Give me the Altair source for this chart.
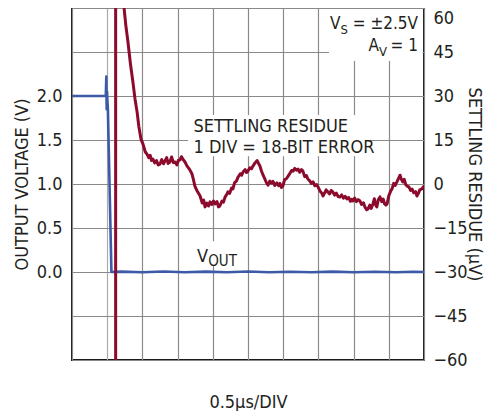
import altair as alt
import pandas as pd

FONT = "'Liberation Sans Narrow', 'DejaVu Sans Condensed', sans-serif"
TXT = "#231f20"
RED = "#8c0a2c"
BLUE = "#3d5aa8"
GRID = "#8a8a8a"

# Output voltage (V) vs time (divisions)
blue_t = [0.0, 0.50, 0.96, 0.975, 0.985, 0.995, 1.005, 1.02, 1.12, 1.40, 2.0, 2.6, 3.2, 3.8,
          4.4, 5.0, 5.6, 6.2, 6.8, 7.4, 8.0, 8.6, 9.2, 9.7, 10.0]
blue_v = [2.0, 2.0, 2.0, 2.22, 1.85, 2.05, 1.95, 1.85, 0.0, 0.004, -0.003, 0.005, -0.002,
          0.004, -0.003, 0.005, -0.002, 0.003, -0.003, 0.004, -0.002, 0.003, -0.003, 0.003, 0.0]

# Settling residue (uV) vs time (divisions)
red_t = [1.24, 1.24, 1.40, 1.477, 1.53, 1.59, 1.66, 1.73, 1.79, 1.85, 1.90, 1.96, 2.02, 2.08,
         2.13, 2.18, 2.22, 2.26, 2.30, 2.35, 2.40, 2.45, 2.50, 2.55, 2.60, 2.64, 2.69, 2.73,
         2.78, 2.83, 2.88, 2.93, 2.98, 3.02, 3.07, 3.11, 3.15, 3.21, 3.27, 3.34, 3.41, 3.45,
         3.49, 3.56, 3.64, 3.70, 3.74, 3.78, 3.83, 3.88, 3.92, 3.97, 4.02, 4.06, 4.12, 4.16,
         4.20, 4.26, 4.30, 4.35, 4.40, 4.43, 4.48, 4.53, 4.57, 4.62, 4.67, 4.72, 4.78, 4.82,
         4.86, 4.92, 4.96, 5.00, 5.05, 5.10, 5.14, 5.20, 5.26, 5.30, 5.34, 5.38, 5.43, 5.48,
         5.52, 5.57, 5.62, 5.67, 5.71, 5.76, 5.82, 5.87, 5.91, 5.95, 5.99, 6.04, 6.09, 6.14,
         6.20, 6.24, 6.28, 6.33, 6.38, 6.42, 6.47, 6.52, 6.56, 6.61, 6.66, 6.70, 6.76, 6.80,
         6.85, 6.90, 6.95, 6.99, 7.05, 7.10, 7.13, 7.18, 7.22, 7.27, 7.32, 7.36, 7.41, 7.46,
         7.51, 7.56, 7.61, 7.66, 7.71, 7.76, 7.81, 7.86, 7.91, 7.95, 7.98, 8.03, 8.08, 8.13,
         8.18, 8.23, 8.28, 8.32, 8.37, 8.41, 8.46, 8.50, 8.55, 8.59, 8.62, 8.66, 8.70, 8.75,
         8.80, 8.84, 8.88, 8.92, 8.95, 9.00, 9.05, 9.09, 9.14, 9.18, 9.23, 9.28, 9.32, 9.36,
         9.40, 9.44, 9.48, 9.52, 9.57, 9.62, 9.66, 9.71, 9.76, 9.80, 9.84, 9.88, 9.94, 10.0]
red_uv = [-200, 200, 200, 60.3, 54.0, 48.4, 41.0, 34.8, 29.0, 24.5, 19.5, 15.3, 13.5, 11.0,
          10.2, 9.0, 9.8, 8.0, 8.5, 7.2, 8.0, 6.5, 6.8, 8.3, 6.9, 7.8, 9.0, 7.0,
          7.5, 9.2, 7.3, 7.5, 6.5, 8.0, 8.2, 9.3, 8.5, 7.5, 6.1, 5.0, 3.4, 1.5,
          -0.7, -2.5, -4.1, -6.5, -5.5, -7.8, -6.5, -7.5, -6.1, -7.0, -5.8, -6.8, -6.0, -7.8,
          -7.5, -5.8, -6.2, -4.4, -3.5, -2.7, -3.2, -1.4, -1.7, 0.5, 1.0, 2.4, 3.5, 3.0,
          4.1, 4.9, 3.9, 4.4, 5.5, 5.2, 6.1, 7.2, 8.0, 7.0, 6.1, 4.5, 3.0, 1.7,
          0.5, -0.4, 1.0, 0.3, 0.9, -0.5, 0.4, -0.6, 0.2, -1.2, -0.7, 1.5, 1.8, 2.7,
          3.8, 4.6, 4.4, 5.3, 4.7, 5.1, 4.0, 4.9, 4.4, 2.5, 2.9, 1.7, 1.0, 0.2,
          0.7, -0.6, -0.2, -1.0, -2.5, -3.2, -4.1, -3.0, -2.0, -2.7, -3.4, -2.2, -2.7, -3.8,
          -3.1, -4.3, -4.4, -3.7, -4.8, -4.2, -5.1, -4.6, -5.9, -5.2, -5.8, -4.8, -6.0, -5.3,
          -5.8, -7.0, -6.4, -7.8, -8.8, -8.5, -7.2, -8.3, -6.8, -5.0, -7.0, -7.8, -5.4, -4.4,
          -6.0, -5.1, -6.8, -7.2, -6.8, -4.0, -2.5, -1.7, 0.2, -0.5, 0.7, 2.0, 3.0, 1.5,
          0.7, 1.6, -0.2, -0.7, -1.0, -2.2, -1.7, -3.0, -2.6, -4.1, -3.2, -2.0, -1.7, -0.7]

x_grid = list(range(0, 11))
left_ticks = [0.0, 0.5, 1.0, 1.5, 2.0]
right_ticks = [-60, -45, -30, -15, 0, 15, 30, 45, 60]

# annotation texts (left aligned and right aligned), in data coordinates (div, uV)
annL_text = ["SETTLING RESIDUE", "1 DIV = 18-BIT ERROR", "V", "V", "OUT"]
annL_x = [3.45, 3.45, 8.72, 3.55, 3.87]
annL_y = [17.7, 10.6, 43.6, -26.6, -28.0]
annL_size = [18, 18, 13, 18, 15]

annR_text = ["V", "S", "= \u00b12.5V", "A", "= 1"]
annR_x = [7.63, 7.84, 9.83, 8.72, 9.83]
annR_y = [52.8, 51.1, 52.8, 45.3, 45.3]
annR_size = [17, 13, 17, 17, 17]

# white boxes behind annotations
box_x = [3.30, 7.30, 3.40]
box_x2 = [8.38, 9.96, 4.72]
box_y = [23.5, 59.7, -19.5]
box_y2 = [9.5, 41.9, -27.8]

blue_df = pd.DataFrame({"t": blue_t, "v": blue_v})
red_df = pd.DataFrame({"t": red_t, "uv": red_uv})
annL = pd.DataFrame({"text": annL_text, "x": annL_x, "y": annL_y, "s": annL_size})
annR = pd.DataFrame({"text": annR_text, "x": annR_x, "y": annR_y, "s": annR_size})
boxes = pd.DataFrame({"x": box_x, "x2": box_x2, "y": box_y, "y2": box_y2})

xs = alt.Scale(domain=[0, 10], nice=False, zero=False)
uvs = alt.Scale(domain=[-60, 60], nice=False, zero=False)
vs = alt.Scale(domain=[-1, 3], nice=False, zero=False)

x_axis = alt.Axis(
    values=x_grid, grid=True, labels=False, ticks=False, domain=False,
    gridColor={"condition": {"test": "datum.value == 1", "value": "#ababab"}, "value": GRID},
    gridWidth=1.2, title="0.5\u00b5s/DIV",
    titleY=47, titleBaseline="alphabetic")

box_layer = alt.Chart(boxes).mark_rect(color="white").encode(
    x=alt.X("x:Q", scale=xs, axis=x_axis, title="0.5\u00b5s/DIV"),
    x2="x2:Q",
    y=alt.Y("y:Q", scale=uvs, axis=None),
    y2="y2:Q",
)

txtL = alt.Chart(annL).mark_text(font=FONT, align="left", baseline="alphabetic", color=TXT).encode(
    x=alt.X("x:Q", scale=xs, axis=x_axis, title="0.5\u00b5s/DIV"),
    y=alt.Y("y:Q", scale=uvs, axis=None),
    text="text:N",
    size=alt.Size("s:Q", scale=None, legend=None),
)
txtR = alt.Chart(annR).mark_text(font=FONT, align="right", baseline="alphabetic", color=TXT).encode(
    x=alt.X("x:Q", scale=xs, axis=x_axis, title="0.5\u00b5s/DIV"),
    y=alt.Y("y:Q", scale=uvs, axis=None),
    text="text:N",
    size=alt.Size("s:Q", scale=None, legend=None),
)

blue = alt.Chart(blue_df).mark_line(color=BLUE, strokeWidth=2.6, clip=True, strokeJoin="round").encode(
    x=alt.X("t:Q", scale=xs, axis=x_axis, title="0.5\u00b5s/DIV"),
    y=alt.Y("v:Q", scale=vs, axis=alt.Axis(
        orient="left", values=left_ticks, format=".1f", grid=False, ticks=False,
        domain=False, labelPadding=10, title="OUTPUT VOLTAGE (V)",
        titleX=-45, titleY=176, titleBaseline="alphabetic", titleAngle=270)),
    order="t:Q",
)

red = alt.Chart(red_df).mark_line(color=RED, strokeWidth=3, clip=True, strokeJoin="round").encode(
    x=alt.X("t:Q", scale=xs, axis=x_axis, title="0.5\u00b5s/DIV"),
    y=alt.Y("uv:Q", scale=uvs, axis=alt.Axis(
        orient="right", values=right_ticks, grid=True, gridColor=GRID, gridWidth=1.2,
        ticks=False, domain=False, labelPadding=9,
        labelExpr="datum.value < 0 ? '\u2212' + (-datum.value) : datum.label",
        labelBaseline={"condition": {"test": "datum.value == 60", "value": "top"}, "value": "middle"},
        labelOffset={"condition": {"test": "datum.value == 60", "value": 1}, "value": 0},
        title="SETTLING RESIDUE (\u00b5V)",
        titleX=44, titleY=176, titleBaseline="alphabetic", titleAngle=90)),
    order=alt.Order("idx:Q"),
).transform_window(idx="row_number()")

chart = alt.layer(box_layer, txtL, txtR, blue, red).resolve_scale(
    y="independent"
).properties(
    width=352, height=352,
    autosize=alt.AutoSizeParams(type="none"),
    padding={"left": 64, "top": 0, "right": 67, "bottom": 51},
).configure_view(
    stroke="#1a1a1a", strokeWidth=2
).configure_axis(
    labelFont=FONT, titleFont=FONT, labelFontSize=18, titleFontSize=18,
    labelColor=TXT, titleColor=TXT, titleFontWeight="normal",
)

chart.save("out.html", embed_options={"renderer": "svg", "actions": False})
